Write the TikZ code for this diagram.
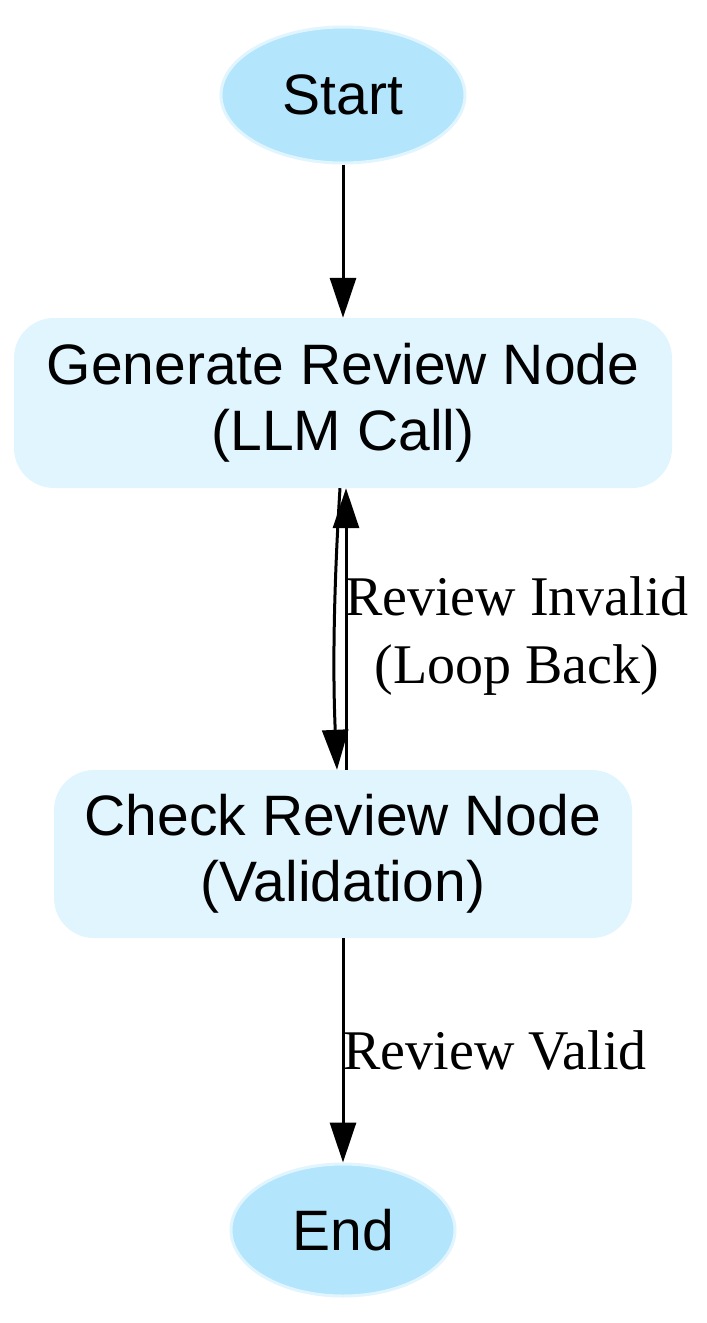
\documentclass[tikz,border=0pt]{standalone}
\usepackage{fontspec}
\setmainfont{Liberation Serif}
\newfontfamily\nodefont{Liberation Sans}
\usetikzlibrary{shapes.geometric,arrows.meta}
\definecolor{ellfill}{HTML}{B3E5FC}
\definecolor{boxfill}{HTML}{E1F5FE}
\begin{document}
\begin{tikzpicture}[x=1pt,y=-1pt,
  term/.style={ellipse,fill=ellfill,draw=boxfill,line width=3pt,font=\nodefont\fontsize{57}{66}\selectfont,inner sep=0pt},
  proc/.style={rounded corners=40pt,fill=boxfill,draw=none,font=\nodefont\fontsize{57}{66}\selectfont,align=center,inner sep=0pt},
  edge/.style={line width=3pt,-{Triangle[length=40pt,width=26pt]}},
  lbl/.style={font=\fontsize{56}{68}\selectfont,align=center}]
\useasboundingbox (0,0) rectangle (707,1323);
\node[term,minimum width=244pt,minimum height=136pt] (start) at (343,95) {Start};
\node[proc,minimum width=658pt,minimum height=170pt] (gen) at (343,403) {Generate Review Node\\(LLM Call)};
\node[proc,minimum width=578pt,minimum height=168pt] (chk) at (343,854) {Check Review Node\\(Validation)};
\node[term,minimum width=224pt,minimum height=132pt] (end) at (343,1230) {End};
\draw[edge] (start) -- (gen);
\draw[edge] (gen.south) ++(-3,0) .. controls (333,600) and (333,680) .. ([xshift=-6pt]chk.north);
\draw[edge] ([xshift=3pt]chk.north) -- ([xshift=3pt]gen.south);
\draw[edge] (chk) -- (end);
\node[lbl] (l1) at (517,636) {Review Invalid\\(Loop Back)};
\node[lbl] (l2) at (495,1050) {Review Valid};
\end{tikzpicture}
\end{document}
